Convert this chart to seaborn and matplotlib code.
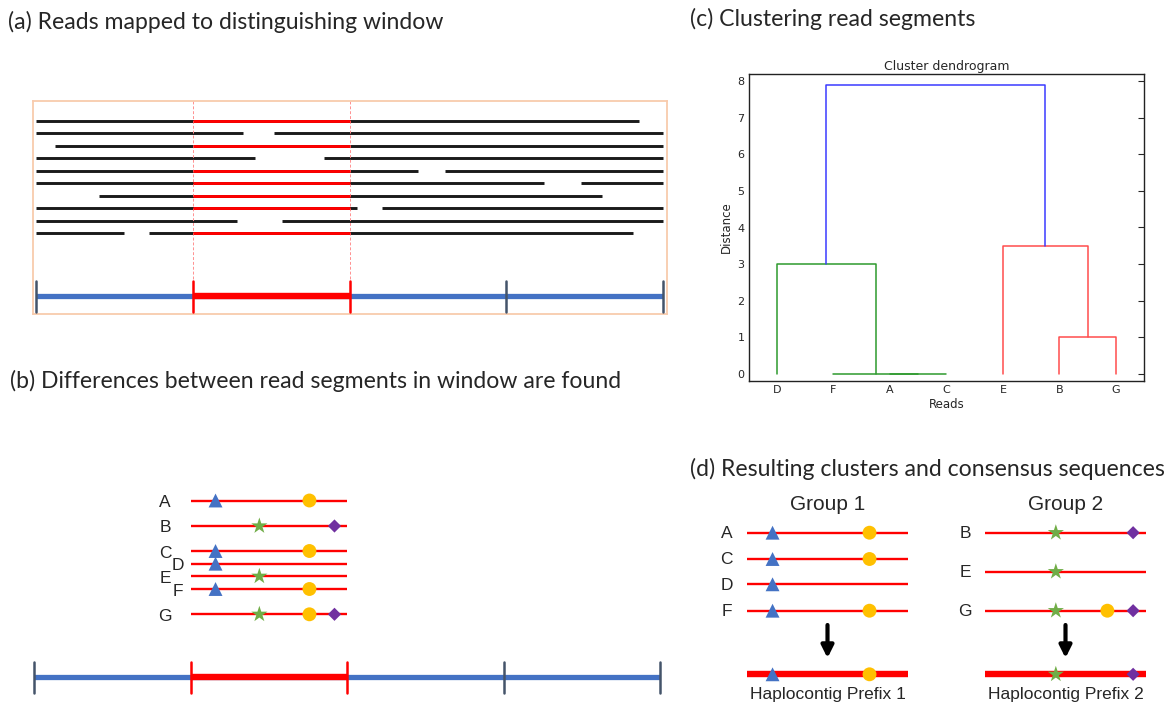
import numpy as np
import pandas as pd
import matplotlib.pyplot as plt
import seaborn as sns

# ---- data ----
# panel (a): pieces of each read along the contig (window = 1..2)
read_pieces = [
    [(0.0, 3.85)],
    [(0.0, 1.32), (1.52, 4.0)],
    [(0.12, 4.0)],
    [(0.0, 1.40), (1.84, 4.0)],
    [(0.0, 2.44), (2.61, 4.0)],
    [(0.0, 3.24), (3.48, 4.0)],
    [(0.40, 3.61)],
    [(0.0, 2.05), (2.21, 4.0)],
    [(0.0, 1.28), (1.57, 4.0)],
    [(0.0, 0.56), (0.72, 3.81)],
]
window = (1.0, 2.0)
contig_ticks = [0, 1, 2, 3, 4]

# panel (b)/(d): variants inside the window (fraction of window)
variant_pos = {'triangle': 0.16, 'star': 0.44, 'circle': 0.76, 'diamond': 0.92}
read_names = ['A', 'B', 'C', 'D', 'E', 'F', 'G']
read_variants = {
    'A': ['triangle', 'circle'],
    'B': ['star', 'diamond'],
    'C': ['triangle', 'circle'],
    'D': ['triangle'],
    'E': ['star'],
    'F': ['triangle', 'circle'],
    'G': ['star', 'circle', 'diamond'],
}
group1 = ['A', 'C', 'D', 'F']
group2 = ['B', 'E', 'G']
consensus1 = ['triangle', 'circle']
consensus2 = ['star', 'diamond']

# panel (c): dendrogram merges
leaf_order = ['D', 'F', 'A', 'C', 'E', 'B', 'G']
merge_left = ['A', 'F', 'B', 'D', 'E', 'DFAC']
merge_right = ['C', 'AC', 'G', 'FAC', 'BG', 'EBG']
merge_height = [0.0, 0.0, 1.0, 3.0, 3.5, 7.9]

# ---- style ----
var_colors = {'triangle': '#4472c4', 'star': '#70ad47', 'circle': '#ffc000', 'diamond': '#7030a0'}
var_markers = {'triangle': '^', 'star': '*', 'circle': 'o', 'diamond': 'D'}
var_sizes = {'triangle': 100, 'star': 150, 'circle': 100, 'diamond': 45}
RED = '#ff0000'
BLUE = '#4472c4'
SLATE = '#44546a'

sns.set_style('white')
plt.rcParams['font.family'] = ['Liberation Sans', 'DejaVu Sans']

W, H = 1169, 707
fig = plt.figure(figsize=(W / 100, H / 100), dpi=100)


def px_axes(left, right, top, bottom):
    return fig.add_axes([left / W, 1 - bottom / H, (right - left) / W, (bottom - top) / H])


def draw_variants(ax, xs, ys, kinds):
    df = pd.DataFrame({'x': xs, 'y': ys, 'kind': kinds})
    sns.scatterplot(data=df, x='x', y='y', hue='kind', style='kind', size='kind',
                    palette=var_colors, markers=var_markers, sizes=var_sizes,
                    linewidth=0, legend=False, ax=ax, zorder=4)


def draw_contig(ax, y, tick_lo, tick_hi):
    ax.plot([contig_ticks[0], contig_ticks[-1]], [y, y], color=BLUE, lw=3.8,
            solid_capstyle='butt', zorder=2)
    ax.plot(window, [y, y], color=RED, lw=4.6, solid_capstyle='butt', zorder=3)
    for t in contig_ticks:
        c = RED if window[0] <= t <= window[1] else SLATE
        ax.plot([t, t], [tick_lo, tick_hi], color=c, lw=1.8, zorder=4)


# panel titles
title_font = dict(family=['Lato', 'DejaVu Sans'], fontsize=16.6, va='center', ha='left')
fig.text(8 / W, 1 - 22 / H, '(a) Reads mapped to distinguishing window', **title_font)
fig.text(10 / W, 1 - 381 / H, '(b) Differences between read segments in window are found', **title_font)
fig.text(690 / W, 1 - 19 / H, '(c) Clustering read segments', **title_font)
fig.text(690 / W, 1 - 469 / H, '(d) Resulting clusters and consensus sequences', **title_font)

# ---- (a) ----
ax_a = px_axes(33, 667, 101, 314)
ax_a.set_xlim((33 - 36) / 156.75, (667 - 36) / 156.75)
ax_a.set_ylim(15.45, -1.575)
ax_a.set_xticks([])
ax_a.set_yticks([])
for sp in ax_a.spines.values():
    sp.set_color('#f8cbad')
    sp.set_linewidth(1.3)
for i, pieces in enumerate(read_pieces):
    for s, e in pieces:
        ax_a.plot([s, e], [i, i], color='#1a1a1a', lw=2.1, solid_capstyle='butt')
        if s <= window[0] and e >= window[1]:
            ax_a.plot(window, [i, i], color=RED, lw=2.1, solid_capstyle='butt', zorder=3)
ax_a.vlines(window, -1.575, 12.78, colors='#ff9090', lw=0.7, linestyles=(0, (3, 2)))
draw_contig(ax_a, 14, 12.78, 15.26)

# ---- (b) ----
ax_b = px_axes(0, 680, 400, 707)
row_y_b = [500.5, 526, 551, 563.7, 576.3, 589, 614.3]
label_x_b = [0.837, 0.837, 0.837, 0.917, 0.837, 0.917, 0.837]
xs, ys, ks = [], [], []
for name, y, lx in zip(read_names, row_y_b, label_x_b):
    ax_b.plot(window, [y, y], color=RED, lw=1.7, solid_capstyle='butt')
    ax_b.text(lx, y + 2, name, fontsize=12.5, ha='center', va='center')
    for k in read_variants[name]:
        xs.append(window[0] + variant_pos[k])
        ys.append(y)
        ks.append(k)
draw_variants(ax_b, xs, ys, ks)
draw_contig(ax_b, 676.7, 661.7, 692.7)
ax_b.set_xlim((0 - 34) / 156.5, (680 - 34) / 156.5)
ax_b.set_ylim(707, 400)
ax_b.axis('off')

# ---- (c) dendrogram ----
ax_c = px_axes(748.7, 1144.2, 74, 381)
pos = {leaf: 5 + 10 * i for i, leaf in enumerate(leaf_order)}
hgt = {leaf: 0.0 for leaf in leaf_order}
for l, r, h in zip(merge_left, merge_right, merge_height):
    node = l + r
    if set(node) <= set('DFAC'):
        c = '#2e9a2e'
    elif set(node) <= set('EBG'):
        c = '#ff4d4d'
    else:
        c = '#3b3bff'
    ax_c.plot([pos[l], pos[l], pos[r], pos[r]], [hgt[l], h, h, hgt[r]], color=c, lw=1.1)
    pos[node] = (pos[l] + pos[r]) / 2
    hgt[node] = h
ax_c.set_xlim(0, 70)
ax_c.set_ylim(-0.2, 8.2)
ax_c.set_xticks([5 + 10 * i for i in range(len(leaf_order))])
ax_c.set_xticklabels(leaf_order)
ax_c.set_yticks(range(0, 9))
ax_c.tick_params(direction='in', length=4, width=0.8, right=True, labelsize=8, pad=3,
                 labelfontfamily='DejaVu Sans')
for sp in ax_c.spines.values():
    sp.set_color('#222222')
    sp.set_linewidth(1.0)
ax_c.set_title('Cluster dendrogram', fontsize=9, pad=3, family='DejaVu Sans')
ax_c.set_xlabel('Reads', fontsize=8.5, labelpad=2, family='DejaVu Sans')
ax_c.set_ylabel('Distance', fontsize=8.5, labelpad=3, family='DejaVu Sans')

# ---- (d) ----
def draw_group(left, right, line_x0, line_len, title, names, rows, consensus, caption):
    ax = px_axes(left, right, 480, 707)
    xs, ys, ks = [], [], []
    for name, y in zip(names, rows):
        ax.plot([0, 1], [y, y], color=RED, lw=1.7, solid_capstyle='butt')
        ax.text(-0.124, y + 1, name, fontsize=12.5, ha='center', va='center')
        for k in read_variants[name]:
            xs.append(variant_pos[k])
            ys.append(y)
            ks.append(k)
    ax.plot([0, 1], [674.3, 674.3], color=RED, lw=4.6, solid_capstyle='butt')
    for k in consensus:
        xs.append(variant_pos[k])
        ys.append(674.3)
        ks.append(k)
    draw_variants(ax, xs, ys, ks)
    ax.text(0.5, 505, title, fontsize=15, ha='center', va='center')
    ax.text(0.5, 695, caption, fontsize=12.5, ha='center', va='center')
    ax.annotate('', xy=(0.5, 658), xytext=(0.5, 625),
                arrowprops=dict(arrowstyle='-|>', lw=3, color='black', mutation_scale=18,
                                shrinkA=0, shrinkB=0))
    ax.set_xlim((left - line_x0) / line_len, (right - line_x0) / line_len)
    ax.set_ylim(707, 480)
    ax.axis('off')


draw_group(690, 940, 746.7, 161.6, 'Group 1', group1, [532.7, 559, 584.3, 610.7],
           consensus1, 'Haplocontig Prefix 1')
draw_group(940, 1169, 985, 161, 'Group 2', group2, [532.7, 571.7, 610.7],
           consensus2, 'Haplocontig Prefix 2')

fig.savefig('out.png', dpi=100)
